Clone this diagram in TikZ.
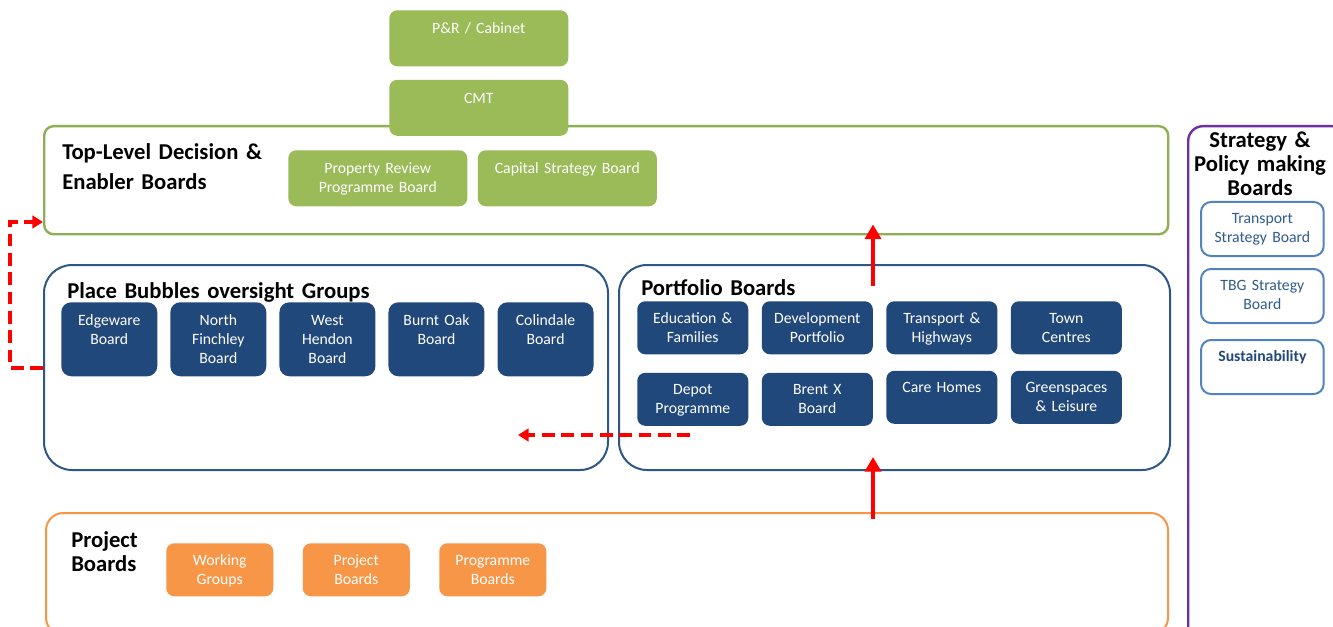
\documentclass[tikz,border=0pt]{standalone}
\usepackage{fontspec}
\setmainfont{Carlito}
\usetikzlibrary{positioning}
\usetikzlibrary{arrows.meta}

\definecolor{leafgreen}{HTML}{9BBB59}
\definecolor{sagegreen}{HTML}{8FAF55}
\definecolor{navy}{HTML}{21487A}
\definecolor{frameblue}{HTML}{2E5788}
\definecolor{peach}{HTML}{F79646}
\definecolor{plum}{HTML}{7030A0}
\definecolor{skyline}{HTML}{5183BE}
\definecolor{inkblue}{HTML}{2F5B8F}

\tikzset{
  tile/.style={rectangle, inner xsep=0pt, inner ysep=0pt, align=center, anchor=north west,
    font=\fontsize{11.8pt}{14.25pt}\selectfont},
  greentile/.style={tile, fill=leafgreen, text=white, rounded corners=6pt,
    minimum width=134.25pt, text width=134.25pt, text height=17.6pt, text depth=24.4pt},
  placetile/.style={tile, fill=navy, text=white, rounded corners=7.5pt,
    minimum width=72pt, text width=72pt, text height=17.25pt, text depth=38.25pt},
  porttile/.style={tile, fill=navy, text=white, rounded corners=6pt,
    minimum width=83.25pt, text width=83.25pt, text height=16.5pt, text depth=23.25pt},
  peachtile/.style={tile, fill=peach, text=white, rounded corners=6pt,
    minimum width=80.25pt, text width=80.25pt, text height=16.5pt, text depth=23.25pt},
  strattile/.style={tile, draw=skyline, line width=1.5pt, fill=white, text=inkblue,
    rounded corners=7.5pt, minimum width=92pt, text width=92pt, text height=16pt, text depth=24.5pt},
  heading/.style={font=\fontsize{17pt}{22.5pt}\selectfont\bfseries, align=left,
    anchor=base west, inner sep=0pt, text width=240pt},
  tier/.style={rectangle, anchor=north west, inner sep=0pt},
  redrise/.style={-{Triangle[width=12pt,length=11pt]}, red, line width=2.6pt},
  reddash/.style={-{Triangle[width=9.5pt,length=8pt]}, red, line width=2.7pt,
    dash pattern=on 9.5pt off 5pt},
}

\begin{document}
\begin{tikzpicture}[x=0.75pt, y=-0.75pt]
  \useasboundingbox (0,0) rectangle (1333,627);
  \fill[white] (0,0) rectangle (1333,627);
  \clip (0,0) rectangle (1333,627);

  % frames
  \node[tier, draw=sagegreen, line width=1.8pt, rounded corners=7pt,
    minimum width=843pt, minimum height=81pt] (toplevel) at (43,125) {};
  \node[tier, draw=frameblue, line width=1.5pt, rounded corners=21pt,
    minimum width=423pt, minimum height=153.75pt] (placebubbles) at (43,264) {};
  \node[tier, draw=frameblue, line width=1.5pt, rounded corners=21pt,
    minimum width=413.25pt, minimum height=153.75pt] (portfolio) at (618,264) {};
  \node[tier, draw=peach, line width=1.5pt, rounded corners=13pt,
    minimum width=841.5pt, minimum height=91.5pt] (projects) at (45,512) {};
  \node[tier, draw=plum, line width=1.8pt, rounded corners=11pt,
    minimum width=118.5pt, minimum height=386.25pt] (strategy) at (1187,125) {};

  % headings
  \node[heading] (toplabel) at (62,160) {Top-Level Decision \&\\Enabler Boards};
  \node[heading, text width=300pt] (placelabel) at (67,298) {Place Bubbles oversight Groups};
  \node[heading] (portlabel) at (641,295) {Portfolio Boards};
  \node[heading, font=\fontsize{17pt}{18pt}\selectfont\bfseries] (projlabel) at (71,547) {Project\\Boards};
  \node[heading, font=\fontsize{17pt}{18pt}\selectfont\bfseries, align=center, anchor=base,
    text width=110pt] (stratlabel) at (1260,148) {Strategy \&\\Policy making\\Boards};

  % top level
  \node[greentile] (cabinet) at (389,10) {P\&R / Cabinet};
  \node[greentile, below=9.75pt of cabinet] (cmt) {CMT};
  \node[greentile] (propreview) at (288,150) {Property Review\\Programme Board};
  \node[greentile, right=7.5pt of propreview] (capital) {Capital Strategy Board};

  % place bubbles
  \node[placetile] (edgeware) at (61,302) {Edgeware\\Board};
  \node[placetile, right=9.4pt of edgeware] (finchley) {North\\Finchley\\Board};
  \node[placetile, right=9.4pt of finchley] (hendon) {West\\Hendon\\Board};
  \node[placetile, right=9.4pt of hendon] (burntoak) {Burnt Oak\\Board};
  \node[placetile, right=9.4pt of burntoak] (colindale) {Colindale\\Board};

  % portfolio boards
  \node[porttile] (education) at (637,301) {Education \&\\Families};
  \node[porttile, right=9.75pt of education] (development) {Development\\Portfolio};
  \node[porttile, right=9.75pt of development] (transport) {Transport \&\\Highways};
  \node[porttile, right=9.75pt of transport] (towns) {Town\\Centres};
  \node[porttile, below=13.5pt of education] (depot) {Depot\\Programme};
  \node[porttile, below=13.5pt of development] (brentx) {Brent X\\Board};
  \node[porttile, below=12pt of transport] (carehomes) {Care Homes};
  \node[porttile, below=12pt of towns] (greenspaces) {Greenspaces\\\& Leisure};

  % project boards
  \node[peachtile] (working) at (166,543) {Working\\Groups};
  \node[peachtile, right=21.75pt of working] (projboards) {Project\\Boards};
  \node[peachtile, right=21.75pt of projboards] (programme) {Programme\\Boards};

  % strategy
  \node[strattile] (tstrategy) at (1200,201) {Transport\\Strategy Board};
  \node[strattile, below=8.25pt of tstrategy] (tbg) {TBG Strategy\\Board};
  \node[strattile, below=11.25pt of tbg, font=\fontsize{11.8pt}{14.25pt}\selectfont\bfseries,
    text=navy] (sustain) {Sustainability};

  % arrows
  \coordinate (riseA) at (873,286);
  \coordinate (riseB) at (873,519);
  \coordinate (driftA) at (690,435);
  \coordinate (driftB) at (518,435);
  \draw[redrise] (riseA) -- ([yshift=8.25pt]riseA |- toplevel.south);
  \draw[redrise] (riseB) -- ([yshift=10.5pt]riseB |- portfolio.south);
  \draw[reddash] (driftA) -- (driftB);
  \draw[reddash] (placebubbles.west |- 0,368) -- ++(-33,0) |- (toplevel.west |- 0,222);
\end{tikzpicture}
\end{document}
